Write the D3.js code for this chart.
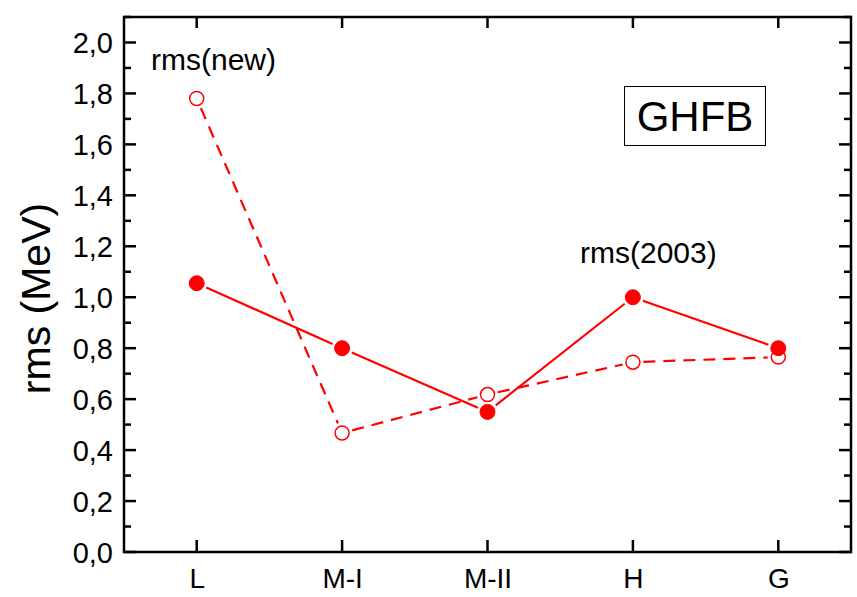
<!DOCTYPE html>
<html>
<head>
<meta charset="utf-8">
<script src="https://cdn.jsdelivr.net/npm/d3@7"></script>
<style>
  body { margin: 0; background: #fff; }
  text { font-family: "Liberation Sans", Arial, sans-serif; fill: #000; }
</style>
</head>
<body>
<svg id="chart" width="857" height="597"></svg>
<script>
// categories and series
var categories = ["L", "M-I", "M-II", "H", "G"];
var rms2003 = [1.055, 0.80, 0.55, 1.00, 0.80];
var rmsNew = [1.78, 0.467, 0.618, 0.745, 0.765];
var yTicks = [0, 0.2, 0.4, 0.6, 0.8, 1.0, 1.2, 1.4, 1.6, 1.8, 2.0];
var yMinor = [0.1, 0.3, 0.5, 0.7, 0.9, 1.1, 1.3, 1.5, 1.7, 1.9, 2.1];

var svg = d3.select("#chart");
var pL = 124, pR = 851, pT = 17, pB = 552;
var red = "#ff0000";

var x = d3.scaleLinear().domain([-0.5, categories.length - 0.5]).range([pL, pR]);
var y = d3.scaleLinear().domain([0, 2.1]).range([pB, pT]);
var idx = d3.range(categories.length);

var fmt = function(d) { return d3.format(".1f")(d).replace(".", ","); };

// tick labels through d3 axes
var yAxis = svg.append("g").attr("transform", "translate(" + pL + ",0)")
  .call(d3.axisLeft(y).tickValues(yTicks).tickSize(0).tickPadding(11).tickFormat(fmt));
var xAxis = svg.append("g").attr("transform", "translate(0," + pB + ")")
  .call(d3.axisBottom(x).tickValues(idx).tickSize(0).tickPadding(16)
    .tickFormat(function(i) { return categories[i]; }));
svg.selectAll(".domain").remove();
yAxis.selectAll("text").attr("font-size", 29).attr("dy", "0.36em");
xAxis.selectAll("text").attr("font-size", 28).attr("dy", "0.72em");

// inward ticks, drawn as thin rects
var tk = svg.append("g").attr("fill", "#000");
function hTicks(vals, len) {
  tk.selectAll(null).data(vals).enter().append("rect")
    .attr("x", pL).attr("y", function(d) { return y(d) - 1.25; })
    .attr("width", len).attr("height", 2.5);
  tk.selectAll(null).data(vals).enter().append("rect")
    .attr("x", pR - len).attr("y", function(d) { return y(d) - 1.25; })
    .attr("width", len).attr("height", 2.5);
}
hTicks(yTicks, 12);
hTicks(yMinor, 7);
tk.selectAll(null).data(idx).enter().append("rect")
  .attr("x", function(d) { return x(d) - 1.25; }).attr("y", pB - 12)
  .attr("width", 2.5).attr("height", 12);
tk.selectAll(null).data(idx).enter().append("rect")
  .attr("x", function(d) { return x(d) - 1.25; }).attr("y", pT)
  .attr("width", 2.5).attr("height", 11);

// frame
svg.append("rect").attr("x", pL).attr("y", pT).attr("width", pR - pL).attr("height", pB - pT)
  .attr("fill", "none").attr("stroke", "#000").attr("stroke-width", 2.5);

// y title
svg.append("text")
  .attr("transform", "translate(50," + ((pT + pB) / 2 + 14) + ") rotate(-90)")
  .attr("text-anchor", "middle")
  .attr("font-size", 41)
  .text("rms (MeV)");

// series lines, shortened so they stop before each marker
var r = 7.5, gap = 3;
function drawSeries(vals, dash, filled) {
  var pts = vals.map(function(v, i) { return [x(i), y(v)]; });
  var segs = [];
  for (var i = 0; i < pts.length - 1; i++) {
    var a = pts[i], b = pts[i + 1];
    var dx = b[0] - a[0], dy = b[1] - a[1], len = Math.sqrt(dx * dx + dy * dy);
    var k = (r + gap) / len;
    segs.push([a[0] + dx * k, a[1] + dy * k, b[0] - dx * k, b[1] - dy * k]);
  }
  svg.append("g").selectAll("line").data(segs).enter().append("line")
    .attr("x1", function(d) { return d[0]; }).attr("y1", function(d) { return d[1]; })
    .attr("x2", function(d) { return d[2]; }).attr("y2", function(d) { return d[3]; })
    .attr("stroke", red).attr("stroke-width", 2.2)
    .attr("stroke-dasharray", dash);
  svg.append("g").selectAll("circle").data(vals).enter().append("circle")
    .attr("cx", function(d, i) { return x(i); })
    .attr("cy", function(d) { return y(d); })
    .attr("r", filled ? r : r - 0.5)
    .attr("fill", filled ? red : "#fff")
    .attr("stroke", red).attr("stroke-width", filled ? 1 : 1.5);
}
drawSeries(rmsNew, "12,8", false);
drawSeries(rms2003, null, true);

// annotations
svg.append("text").attr("x", 151).attr("y", 70).attr("font-size", 30).text("rms(new)");
svg.append("text").attr("x", 580).attr("y", 263).attr("font-size", 30).text("rms(2003)");
svg.append("rect").attr("x", 624.5).attr("y", 86.5).attr("width", 141).attr("height", 59)
  .attr("fill", "none").attr("stroke", "#000").attr("stroke-width", 1);
svg.append("text").attr("x", 695).attr("y", 131).attr("text-anchor", "middle")
  .attr("font-size", 42).text("GHFB");
</script>
</body>
</html>
